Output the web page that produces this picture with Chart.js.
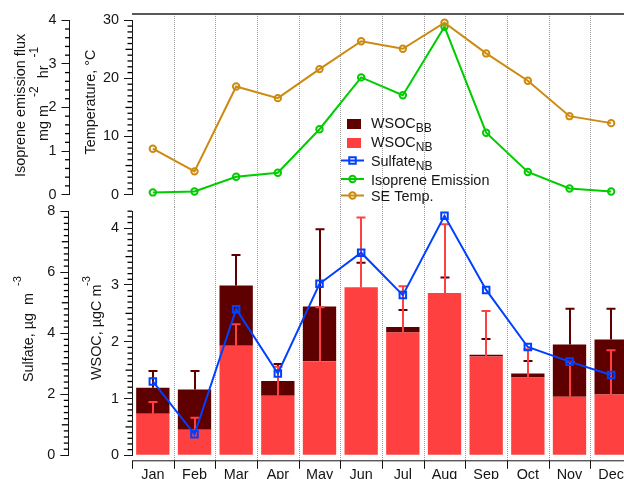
<!DOCTYPE html>
<html>
<head>
<meta charset="utf-8">
<script src="https://cdn.jsdelivr.net/npm/chart.js@4"></script>
<style>
html,body{margin:0;padding:0;width:624px;height:479px;overflow:hidden;background:#fff}
canvas{position:absolute;left:0}
#top{top:0}
#bottom{top:180px}
</style>
</head>
<body>
<canvas id="bottom" width="640" height="315"></canvas>
<canvas id="top" width="640" height="225"></canvas>
<script>
const months = ['Jan','Feb','Mar','Apr','May','Jun','Jul','Aug','Sep','Oct','Nov','Dec'];
const seTemp = [7.9,4.0,18.6,16.6,21.6,26.4,25.1,29.6,24.3,19.6,13.5,12.3];
const isoprene = [0.05,0.07,0.41,0.50,1.50,2.69,2.28,3.85,1.42,0.52,0.14,0.07];
const sulfateNB = [2.42,0.69,4.79,2.68,5.62,6.64,5.25,7.85,5.42,3.55,3.07,2.63];
const wsocNB = [0.73,0.45,1.93,1.05,1.655,2.96,2.165,2.86,1.74,1.37,1.03,1.07];
const wsocBB = [0.46,0.71,1.06,0.26,0.965,0,0.095,0,0.03,0.07,0.92,0.97];
const wsocNBErrTop = [0.94,0.66,2.31,1.56,2.61,4.19,2.98,4.07,2.54,1.87,1.65,1.85];
const wsocBBErrTop = [1.485,1.485,3.53,1.61,3.98,3.39,2.56,3.13,2.05,1.66,2.58,2.58];

const FONT = '"Liberation Sans", Arial, sans-serif';
const INK = '#151515';
const DARK = '#5f0000', RED = '#ff4040', BLUE = '#0040ff', GREEN = '#00cc00', GOLD = '#cc8a10';
const PLOT_RIGHT = 8;
const SIZE = 14.4;
const BOTTOM_TOP = 180;

function richText(ctx, x, y, parts, size, vertical) {
  ctx.save();
  ctx.translate(x, y);
  if (vertical) ctx.rotate(-Math.PI / 2);
  ctx.fillStyle = INK;
  ctx.textAlign = 'left';
  ctx.textBaseline = 'alphabetic';
  let cx = 0;
  for (const p of parts) {
    const small = p[1] !== 0;
    ctx.font = (small ? Math.round(size * 0.8) : size) + 'px ' + FONT;
    ctx.fillText(p[0], cx, p[1] || 0);
    cx += ctx.measureText(p[0]).width;
  }
  ctx.restore();
}

function minorTicks(ctx, scale, step, majorEvery, midEvery, midLen, minLen) {
  const x = scale.left + scale.width;
  const n = Math.round((scale.max - scale.min) / step);
  ctx.save();
  ctx.setLineDash([]);
  ctx.strokeStyle = '#000';
  ctx.lineWidth = 1.3;
  for (let i = 0; i <= n; i++) {
    if (i % majorEvery === 0) continue;
    const len = (i % midEvery === 0) ? midLen : minLen;
    const y = scale.getPixelForValue(scale.min + i * step);
    ctx.beginPath(); ctx.moveTo(x, y); ctx.lineTo(x - len, y); ctx.stroke();
  }
  ctx.restore();
}

function boundaries(xs) {
  const step = xs.width / months.length;
  return months.concat(['']).map((_, i) => xs.left + i * step);
}

function gridPlugin(y0, y1) {
  return {
    id: 'monthGrid',
    beforeDatasetsDraw(chart) {
      const ctx = chart.ctx;
      const bs = boundaries(chart.scales.x);
      ctx.save();
      ctx.strokeStyle = '#9a9a9a';
      ctx.lineWidth = 1;
      ctx.setLineDash([1, 1]);
      bs.slice(1, -1).forEach(b => {
        const x = Math.round(b) + 0.5;
        ctx.beginPath(); ctx.moveTo(x, y0(chart)); ctx.lineTo(x, y1(chart)); ctx.stroke();
      });
      ctx.restore();
    }
  };
}

function markerLine(ctx, x0, x1, y, color, style) {
  ctx.save();
  ctx.strokeStyle = color;
  ctx.fillStyle = 'rgba(0,0,0,0)';
  ctx.lineWidth = 2;
  ctx.beginPath(); ctx.moveTo(x0, y); ctx.lineTo(x1, y); ctx.stroke();
  Chart.helpers.drawPoint(ctx, {pointStyle: style, radius: style === 'rect' ? 4.6 : 3.2, rotation: 0, borderWidth: 2}, (x0 + x1) / 2, y);
  ctx.restore();
}

const topDecor = {
  id: 'topDecor',
  afterDraw(chart) {
    const ctx = chart.ctx;
    const s = chart.scales;
    minorTicks(ctx, s.yIso, 0.2, 5, 100, 4.5, 4.5);
    minorTicks(ctx, s.yTemp, 1, 10, 5, 6.5, 4.5);
    ctx.save();
    ctx.strokeStyle = '#222'; ctx.lineWidth = 1.3;
    ctx.beginPath(); ctx.moveTo(chart.chartArea.left, 14); ctx.lineTo(chart.width, 14); ctx.stroke();
    ctx.restore();
    richText(ctx, 25, 177, [['Isoprene emission flux', 0]], SIZE, true);
    richText(ctx, 48, 141, [['mg m', 0], ['  ', 0], ['-2', -10], ['  hr', 0], ['  ', 0], ['-1', -10]], SIZE, true);
    richText(ctx, 95, 154.5, [['Temperature, °C', 0]], SIZE, true);
    ctx.fillStyle = DARK; ctx.fillRect(347, 119, 14, 10);
    ctx.fillStyle = RED; ctx.fillRect(347, 138, 14, 10);
    richText(ctx, 371, 127.5, [['WSOC', 0], ['BB', 4]], SIZE, false);
    richText(ctx, 371, 146.5, [['WSOC', 0], ['NB', 4]], SIZE, false);
    richText(ctx, 371, 166, [['Sulfate', 0], ['NB', 4]], SIZE, false);
    richText(ctx, 371, 185, [['Isoprene Emission', 0]], SIZE, false);
    richText(ctx, 371, 201, [['SE Temp.', 0]], SIZE, false);
    markerLine(ctx, 341, 364, 160.5, BLUE, 'rect');
    markerLine(ctx, 341, 364, 179, GREEN, 'circle');
    markerLine(ctx, 341, 364, 195.5, GOLD, 'circle');
  }
};

const errorBars = {
  id: 'errorBars',
  afterDatasetDraw(chart, args) {
    const spec = {0: [wsocBBErrTop, DARK, wsocBB], 1: [wsocNBErrTop, RED, null]}[args.index];
    if (!spec) return;
    const ctx = chart.ctx, xs = chart.scales.x, ys = chart.scales.yWsoc;
    ctx.save();
    ctx.strokeStyle = spec[1];
    ctx.lineWidth = 2;
    spec[0].forEach((top, i) => {
      const base = wsocNB[i] + (spec[2] ? spec[2][i] : 0);
      const x = Math.round(xs.getPixelForValue(i));
      const y0 = ys.getPixelForValue(base), y1 = ys.getPixelForValue(top);
      ctx.beginPath();
      ctx.moveTo(x, y0); ctx.lineTo(x, y1);
      ctx.moveTo(x - 4.5, y1); ctx.lineTo(x + 4.5, y1);
      ctx.stroke();
    });
    ctx.restore();
  }
};

const bottomDecor = {
  id: 'bottomDecor',
  afterDraw(chart) {
    const ctx = chart.ctx, s = chart.scales;
    minorTicks(ctx, s.ySul, 0.2, 10, 5, 6.5, 4.5);
    minorTicks(ctx, s.yWsoc, 0.1, 10, 5, 6.5, 4.5);
    const yAxis = s.yWsoc.bottom + 5.5;
    ctx.save();
    ctx.strokeStyle = INK; ctx.lineWidth = 1;
    ctx.beginPath(); ctx.moveTo(s.x.left, yAxis); ctx.lineTo(s.x.right, yAxis); ctx.stroke();
    boundaries(s.x).forEach(b => {
      const x = Math.round(b) + 0.5;
      ctx.beginPath(); ctx.moveTo(x, yAxis); ctx.lineTo(x, yAxis + 8); ctx.stroke();
    });
    ctx.restore();
    richText(ctx, 32.5, 382 - BOTTOM_TOP, [['Sulfate, µg  m', 0]], SIZE, true);
    richText(ctx, 21, 286 - BOTTOM_TOP, [['-3', 0]], 11, true);
    richText(ctx, 101, 380 - BOTTOM_TOP, [['WSOC, µgC m', 0]], SIZE, true);
    richText(ctx, 90, 286 - BOTTOM_TOP, [['-3', 0]], 11, true);
  }
};

function yAxis(pos, width, weight, min, max, step) {
  return {
    type: 'linear', position: pos, min, max, weight,
    afterFit(scale) { scale.width = width; },
    border: {display: true, color: INK, width: 1},
    grid: {drawOnChartArea: false, drawTicks: true, tickLength: 8, color: INK, lineWidth: 1},
    ticks: {stepSize: step, includeBounds: false, padding: 5, color: INK, font: {family: FONT, size: SIZE}, maxRotation: 0}
  };
}

const line = (label, data, axis, color, style, radius, order) => ({
  type: 'line', label, data, yAxisID: axis, order,
  borderColor: color, borderWidth: 2, backgroundColor: 'rgba(0,0,0,0)',
  pointStyle: style, pointRadius: radius, pointBorderWidth: 2, pointBorderColor: color,
  pointBackgroundColor: 'rgba(0,0,0,0)', tension: 0, clip: false
});

new Chart(document.getElementById('top'), {
  type: 'line',
  data: {labels: months, datasets: [
    line('Isoprene Emission', isoprene, 'yIso', GREEN, 'circle', 3.2, 1),
    line('SE Temp.', seTemp, 'yTemp', GOLD, 'circle', 3.2, 0)
  ]},
  options: {
    responsive: false, animation: false, devicePixelRatio: 1,
    layout: {padding: {top: 20.3, bottom: 225 - 194.6, left: 0, right: PLOT_RIGHT}},
    plugins: {legend: {display: false}, tooltip: {enabled: false}},
    scales: {
      x: {type: 'category', display: false, offset: true},
      yIso: yAxis('left', 69.5, 1, 0, 4, 1),
      yTemp: yAxis('left', 62.5, 0, 0, 30, 10)
    }
  },
  plugins: [gridPlugin(() => 14, () => 207), topDecor]
});

new Chart(document.getElementById('bottom'), {
  data: {labels: months, datasets: [
    {type: 'bar', label: 'WSOC BB', data: wsocBB, yAxisID: 'yWsoc', backgroundColor: DARK, order: 2, stack: 'w', barPercentage: 0.8, categoryPercentage: 1},
    {type: 'bar', label: 'WSOC NB', data: wsocNB, yAxisID: 'yWsoc', backgroundColor: RED, order: 1, stack: 'w', barPercentage: 0.8, categoryPercentage: 1},
    line('Sulfate NB', sulfateNB, 'ySul', BLUE, 'rect', 4.6, 0)
  ]},
  options: {
    responsive: false, animation: false, devicePixelRatio: 1,
    layout: {padding: {top: 211.2 - BOTTOM_TOP, bottom: 0, left: 0, right: PLOT_RIGHT}},
    plugins: {legend: {display: false}, tooltip: {enabled: false}},
    scales: {
      x: {
        type: 'category', offset: true, stacked: true,
        afterFit(scale) { scale.height = 315 - (455.3 - BOTTOM_TOP); },
        border: {display: false},
        grid: {display: false, drawTicks: false},
        ticks: {padding: 11, color: INK, font: {family: FONT, size: SIZE}, maxRotation: 0, autoSkip: false}
      },
      ySul: yAxis('left', 68.3, 1, 0, 8, 2),
      yWsoc: Object.assign(yAxis('left', 63.7, 0, 0, 4.3, 1), {stacked: true})
    }
  },
  plugins: [gridPlugin(() => 207 - BOTTOM_TOP, c => c.scales.yWsoc.bottom + 5.5), errorBars, bottomDecor]
});
</script>
</body>
</html>
